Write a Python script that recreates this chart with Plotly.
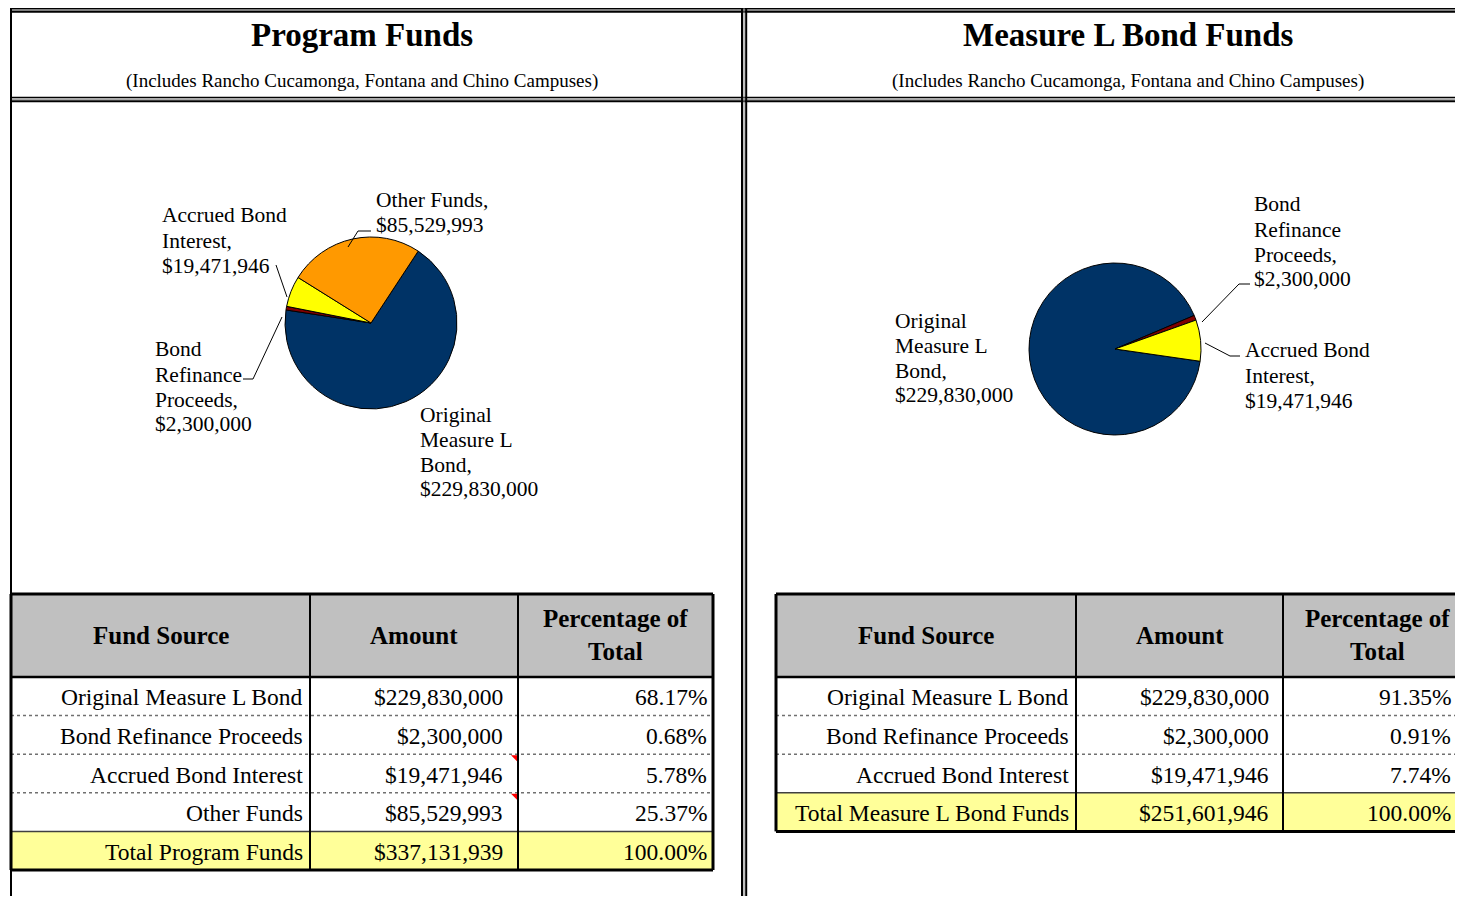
import plotly.graph_objects as go

# ---------------- data ----------------
left_sources = ["Original Measure L Bond", "Bond Refinance Proceeds",
                "Accrued Bond Interest", "Other Funds"]
left_amounts = [229830000, 2300000, 19471946, 85529993]
left_pcts = [68.17, 0.68, 5.78, 25.37]
left_total_label = "Total Program Funds"
left_total_amount = 337131939
left_total_pct = 100.00

right_sources = ["Original Measure L Bond", "Bond Refinance Proceeds",
                 "Accrued Bond Interest"]
right_amounts = [229830000, 2300000, 19471946]
right_pcts = [91.35, 0.91, 7.74]
right_total_label = "Total Measure L Bond Funds"
right_total_amount = 251601946
right_total_pct = 100.00

pie_labels_left = ["Original Measure L Bond", "Bond Refinance Proceeds",
                   "Accrued Bond Interest", "Other Funds"]
pie_labels_right = ["Original Measure L Bond", "Bond Refinance Proceeds",
                    "Accrued Bond Interest"]
slice_colors = ["#003366", "#800000", "#FFFF00", "#FF9900"]

titles = ["Program Funds", "Measure L Bond Funds"]
subtitle = "(Includes Rancho Cucamonga, Fontana and Chino Campuses)"
headers = ["Fund Source", "Amount", "Percentage of", "Total"]

# page is 1463x904; the html body adds an 8px margin, so the figure is
# sized to fit inside it and everything is positioned in page pixels.
PW, PH = 1463, 904
OFF = 8
FW, FH = PW - 2 * OFF, PH - 2 * OFF
FONT = "Liberation Serif"


def px(x):
    return (x - OFF) / FW


def py(y):
    return 1 - (y - OFF) / FH


fig = go.Figure()


def pie_domain(cx, cy, r):
    return dict(x=[px(cx - r), px(cx + r)], y=[py(cy + r), py(cy - r)])


fig.add_trace(go.Pie(labels=pie_labels_left, values=left_amounts, sort=False,
                     direction="clockwise", rotation=33.3,
                     marker=dict(colors=slice_colors, line=dict(color="black", width=1)),
                     textinfo="none", domain=pie_domain(371, 323, 86), showlegend=False))
fig.add_trace(go.Pie(labels=pie_labels_right, values=right_amounts, sort=False,
                     direction="clockwise", rotation=98.2,
                     marker=dict(colors=slice_colors[:3], line=dict(color="black", width=1)),
                     textinfo="none", domain=pie_domain(1115, 349, 86), showlegend=False))

shapes = []
ann = []


def line(x0, y0, x1, y1, w=1, c="black", dash="solid"):
    shapes.append(dict(type="line", xref="paper", yref="paper", x0=px(x0), y0=py(y0),
                       x1=px(x1), y1=py(y1),
                       line=dict(color=c, width=w, dash=dash), layer="above"))


def rect(x0, y0, x1, y1, fill):
    shapes.append(dict(type="rect", xref="paper", yref="paper", x0=px(x0), y0=py(y0),
                       x1=px(x1), y1=py(y1),
                       fillcolor=fill, line=dict(width=0), layer="below"))


def text(x, y, t, size=21.5, anchor="left", bold=False):
    if bold:
        t = "<b>" + t + "</b>"
    ann.append(dict(x=px(x), y=py(y), xref="paper", yref="paper", text=t, showarrow=False,
                    xanchor=anchor, yanchor="middle",
                    font=dict(family=FONT, size=size, color="black")))


# ---------------- frame ----------------
line(10, 8.8, PW, 8.8, 1.5)
line(10, 10.2, PW, 10.2, 1, "#808080")
line(10, 11.8, PW, 11.8, 2)
line(10, 97.5, PW, 97.5, 1.5)
line(10, 99.2, PW, 99.2, 1, "#808080")
line(10, 101.2, PW, 101.2, 2)
line(11, 8, 11, PH, 2)
line(742, 8, 742, PH, 2)
line(744, 8, 744, PH, 1, "#808080")
line(746.2, 8, 746.2, PH, 2)

# titles
for cx, t in zip([362, 1128], titles):
    text(cx, 35, t, size=33, anchor="center", bold=True)
    text(cx, 81, subtitle, size=19, anchor="center")


# ---------------- pie labels ----------------
def fmt_amt(v):
    return "${:,}".format(v)


def label_block(x, y_lines, parts):
    for y, p in zip(y_lines, parts):
        text(x, y, p, size=21.5, anchor="left")


left_lbl_pos = {
    "Original Measure L Bond": (418, [415, 440, 465, 489], ["Original", "Measure L", "Bond,"]),
    "Bond Refinance Proceeds": (153, [349, 375, 400, 424], ["Bond", "Refinance", "Proceeds,"]),
    "Accrued Bond Interest": (160, [215, 241, 266], ["Accrued Bond", "Interest,"]),
    "Other Funds": (374, [200, 225], ["Other Funds,"]),
}
for name, amt in zip(pie_labels_left, left_amounts):
    x, ys, parts = left_lbl_pos[name]
    label_block(x, ys, parts + [fmt_amt(amt)])

right_lbl_pos = {
    "Original Measure L Bond": (893, [321, 346, 371, 395], ["Original", "Measure L", "Bond,"]),
    "Bond Refinance Proceeds": (1252, [204, 230, 255, 279], ["Bond", "Refinance", "Proceeds,"]),
    "Accrued Bond Interest": (1243, [350, 376, 401], ["Accrued Bond", "Interest,"]),
}
for name, amt in zip(pie_labels_right, right_amounts):
    x, ys, parts = right_lbl_pos[name]
    label_block(x, ys, parts + [fmt_amt(amt)])

# leader lines
line(371, 231, 358, 231); line(358, 231, 348, 247)
line(276, 265, 287, 297)
line(243, 379, 253, 379); line(253, 379, 282, 317)
line(1250, 284, 1239, 284); line(1239, 284, 1202, 322)
line(1205, 343, 1230, 356); line(1230, 356, 1240, 356)


# ---------------- tables ----------------
def draw_table(cols, top, sources, amounts, pcts, tot_label, tot_amt, tot_pct, pads,
               comments=(), head3_x=None):
    header_h = 83
    row_h = 38.6
    n = len(sources)
    edges = [top, top + header_h] + [top + header_h + row_h * (i + 1) for i in range(n + 1)]
    rect(cols[0], edges[0], cols[-1], edges[1], "#C0C0C0")
    rect(cols[0], edges[-2], cols[-1], edges[-1], "#FFFF99")
    hy = (edges[0] + edges[1]) / 2
    h3x = head3_x if head3_x is not None else (cols[2] + cols[3]) / 2
    text((cols[0] + cols[1]) / 2, hy, headers[0], size=25, anchor="center", bold=True)
    text((cols[1] + cols[2]) / 2, hy, headers[1], size=25, anchor="center", bold=True)
    text(h3x, hy - 17, headers[2], size=25, anchor="center", bold=True)
    text(h3x, hy + 16, headers[3], size=25, anchor="center", bold=True)
    rows = list(zip(sources, amounts, pcts)) + [(tot_label, tot_amt, tot_pct)]
    for i, (s, a, p) in enumerate(rows):
        cy = (edges[i + 1] + edges[i + 2]) / 2 + 1
        text(cols[1] - pads[0], cy, s, size=23.5, anchor="right")
        text(cols[2] - pads[1], cy, fmt_amt(a), size=23.5, anchor="right")
        text(cols[3] - pads[2], cy, "{:.2f}%".format(p), size=23.5, anchor="right")
    for k in range(2, len(edges) - 2):
        line(cols[0], edges[k], cols[-1], edges[k], 1.5, "#707070", "dot")
    line(cols[0], edges[-2], cols[-1], edges[-2], 1.5, "#404040")
    line(cols[0], edges[1], cols[-1], edges[1], 2.5)
    for c in cols[1:-1]:
        line(c, edges[0], c, edges[-1], 2)
    line(cols[0], edges[0], cols[-1], edges[0], 3)
    line(cols[0], edges[-1], cols[-1], edges[-1], 3)
    line(cols[0], edges[0], cols[0], edges[-1], 3)
    line(cols[-1], edges[0], cols[-1], edges[-1], 3)
    for r in comments:
        x = cols[2] - 1
        y = edges[r + 1] + 1
        shapes.append(dict(type="path", xref="paper", yref="paper",
                           path=f"M {px(x-6)},{py(y)} L {px(x)},{py(y)} L {px(x)},{py(y+6)} Z",
                           fillcolor="red", line=dict(width=0), layer="above"))


draw_table([11, 310, 518, 713], 594, left_sources, left_amounts, left_pcts,
           left_total_label, left_total_amount, left_total_pct, (5, 13, 4), comments=(2, 3))
draw_table([776, 1076, 1283, 1478], 594, right_sources, right_amounts, right_pcts,
           right_total_label, right_total_amount, right_total_pct, (5, 12, 25),
           head3_x=1377)

fig.update_layout(
    width=FW, height=FH, margin=dict(l=0, r=0, t=0, b=0),
    paper_bgcolor="white", plot_bgcolor="white",
    xaxis=dict(visible=False), yaxis=dict(visible=False),
    shapes=shapes, annotations=ann, showlegend=False,
)
fig.write_html("out.html")
